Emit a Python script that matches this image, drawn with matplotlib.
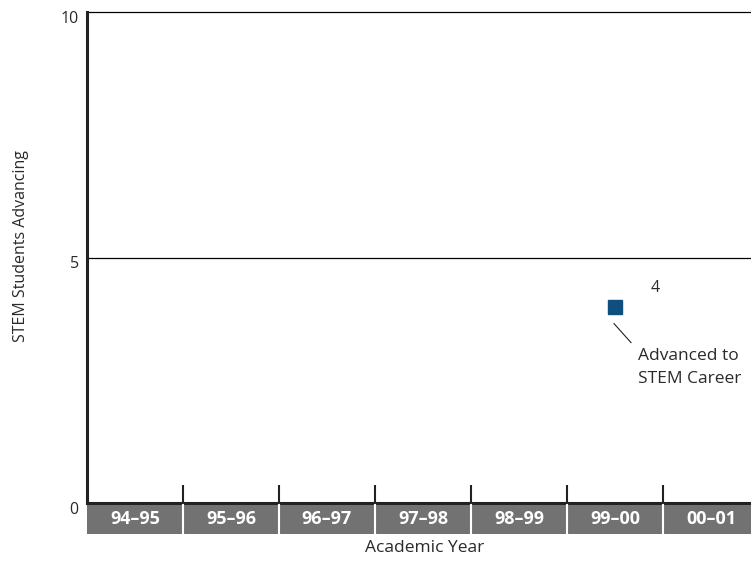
import matplotlib
matplotlib.use("Agg")
import matplotlib.pyplot as plt
from matplotlib.patches import Rectangle
from matplotlib.transforms import (blended_transform_factory, offset_copy,
                                   ScaledTranslation)

plt.rcParams['font.family'] = ['Open Sans', 'DejaVu Sans']

years = ["94–95", "95–96", "96–97", "97–98", "98–99", "99–00", "00–01"]
advanced_year = ["99–00"]
advanced_values = [4]
y_ticks = [0, 5, 10]

DPI = 100
TEXT = "#2a2a2a"
fig = plt.figure(figsize=(7.51, 5.69), dpi=DPI)
ax = fig.add_axes([87 / 751, 66 / 569, 672 / 751, 491 / 569])

n = len(years)
ax.set_xlim(-0.5, n - 0.5)
ax.set_ylim(0, 10)

# horizontal reference lines
for yv in y_ticks[1:]:
    ax.axhline(yv, color="black", lw=0.9, zorder=1, clip_on=False)

for side in ("top", "right"):
    ax.spines[side].set_visible(False)
for side in ("left", "bottom"):
    ax.spines[side].set_linewidth(2.2)
    ax.spines[side].set_color("#222222")

ax.set_yticks(y_ticks)
ax.tick_params(axis="y", length=0, pad=6, labelsize=11.5, colors=TEXT)
drop = ScaledTranslation(0, -5 / DPI, fig.dpi_scale_trans)
for lab in ax.get_yticklabels():
    lab.set_transform(lab.get_transform() + drop)

# category dividers as inward ticks, labels drawn in grey band
ax.set_xticks([i + 0.5 for i in range(n - 1)])
ax.set_xticklabels([])
ax.tick_params(axis="x", direction="in", length=13, width=1.5, color="#222222")

trans = blended_transform_factory(ax.transData, ax.transAxes)
band_top = -1.5 / 491
band_h = 29 / 491
for i, label in enumerate(years):
    ax.add_patch(Rectangle((i - 0.5, band_top - band_h), 1, band_h,
                           transform=trans, facecolor="#727272",
                           edgecolor="none", clip_on=False, zorder=3))
    ax.text(i, band_top - band_h / 2, label, transform=trans, ha="center",
            va="center", color="white", fontsize=13, fontweight="bold",
            zorder=5, clip_on=False)
    if i > 0:
        ax.plot([i - 0.5, i - 0.5], [band_top, band_top - band_h],
                transform=trans, color="white", lw=1.5, clip_on=False,
                zorder=4)

xs = [years.index(y) for y in advanced_year]
ax.plot(xs, advanced_values, linestyle="none", marker="s", markersize=10,
        color="#0f4f80", zorder=6, clip_on=False)


def shifted(dx_px, dy_px):
    # offset from a data point by screen pixels (y downward)
    return offset_copy(ax.transData, fig=fig, x=dx_px * 72 / DPI,
                       y=-dy_px * 72 / DPI, units="points")


for x, v in zip(xs, advanced_values):
    ax.text(x, v, str(v), transform=shifted(40, -19), ha="center",
            va="center", fontsize=11.5, color=TEXT)
    # leader line from the marker to its caption
    p0 = shifted(-1, 17).transform((x, v))
    p1 = shifted(16, 36).transform((x, v))
    fig.add_artist(plt.Line2D([p0[0], p1[0]], [p0[1], p1[1]],
                              transform=None, color="#222222", lw=0.8))
    ax.text(x, v, "Advanced to", transform=shifted(23, 53), ha="left",
            va="baseline", fontsize=12.5, color=TEXT)
    ax.text(x, v, "STEM Career", transform=shifted(23, 76), ha="left",
            va="baseline", fontsize=12.5, color=TEXT)

fig.text(21 / 751, 1 - 246 / 569, "STEM Students Advancing", rotation=90,
         ha="center", va="center", fontsize=11.5, color=TEXT)
fig.text(425 / 751, 1 - 548 / 569, "Academic Year", ha="center", va="center",
         fontsize=12.5, color=TEXT)

fig.savefig("out.png", dpi=DPI)
